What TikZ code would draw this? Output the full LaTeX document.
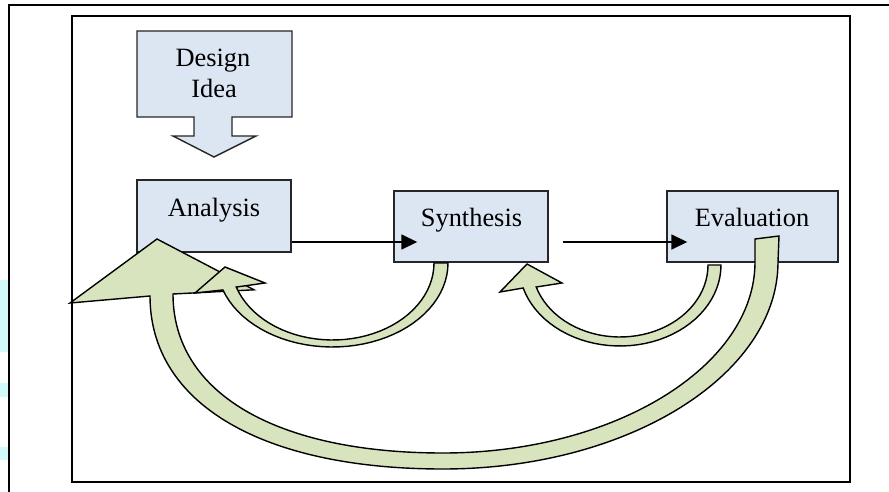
\documentclass[tikz,border=0pt]{standalone}
\usepackage{fontspec}
\setmainfont{Liberation Serif}
\usetikzlibrary{arrows.meta}
\definecolor{boxblue}{HTML}{DCE6F2}
\definecolor{arrowgreen}{HTML}{D7E4BD}
\definecolor{edgecyan}{HTML}{D2FAFA}
\begin{document}
\begin{tikzpicture}[x=0.5pt,y=-0.5pt,
  box/.style={draw=black!85, fill=boxblue, line width=0.7pt, rectangle, inner sep=0pt},
  lbl/.style={font=\fontsize{13.2pt}{15.2pt}\selectfont, inner sep=0pt, anchor=base},
  curved/.style={draw=black, fill=arrowgreen, line width=0.7pt, line join=miter},
  flow/.style={draw=black, line width=0.8pt, -{Triangle[length=8pt,width=7.5pt]}},
  frameline/.style={draw=black, line width=1pt}]
\useasboundingbox (0,0) rectangle (889,492);
% stray cyan marks at left edge
\fill[edgecyan] (0,280) rectangle (9,352);
\fill[edgecyan] (0,383) rectangle (9,397);
\fill[edgecyan] (0,447) rectangle (9,460);
% frames
\draw[frameline] (9,496) -- (9,5.5) -- (893,5.5);
\draw[frameline] (72,16) rectangle (850,482);
% design idea block arrow
\draw[box] (137,31) -- (292,31) -- (292,117) -- (232,117) -- (232,136) -- (256,136)
  -- (214,157) -- (173,136) -- (194,136) -- (194,117) -- (137,117) -- cycle;
\node[lbl] (designA) at (213,66.7) {Design};
\node[lbl] (designB) at (214,97.7) {Idea};
% boxes
\node[box, minimum width=77pt, minimum height=36pt] (analysis) at (214,216) {};
\node[box, minimum width=77pt, minimum height=35.5pt] (synthesis) at (471,226.5) {};
\node[box, minimum width=85.5pt, minimum height=35.5pt] (evaluation) at (752.5,226.5) {};
\node[lbl] (analysisT) at (214,216) {Analysis};
\node[lbl] (synthesisT) at (471.5,227) {Synthesis};
\node[lbl] (evaluationT) at (752,226.5) {Evaluation};
% straight connectors
\coordinate (rowA) at (0,242);
\coordinate (synIn) at ([xshift=12pt]synthesis.west);
\coordinate (synOut) at ([xshift=7pt]synthesis.east);
\coordinate (evalIn) at ([xshift=10.5pt]evaluation.west);
\draw[flow] (analysis.east |- rowA) -- (synIn |- rowA);
\draw[flow] (synOut |- rowA) -- (evalIn |- rowA);
% big curved arrow: evaluation -> analysis
\draw[curved] (779,236) -- (778,262) .. controls (778,375) and (628,469) .. (443,469)
  .. controls (261,469) and (150,403) .. (150,296) -- (70,303) -- (157,239) -- (254,289.8)
  -- (173,294) .. controls (173,393) and (276,453) .. (443,453)
  .. controls (615,453) and (755,366) .. (755,262) -- (755,239) -- cycle;
% small curved arrow: synthesis -> analysis
\draw[curved] plot[domain=0:161.3, samples=40, variable=\t] ({332.4+115.6*cos(\t)},{263+84*sin(\t)})
  -- (195,293) -- (225,267) -- (265,283)
  -- plot[domain=161.8:0, samples=40, variable=\t] ({332.6+101.4*cos(\t)},{263+77*sin(\t)}) -- cycle;
% small curved arrow: evaluation -> synthesis
\draw[curved] plot[domain=0:163.5, samples=40, variable=\t] ({620+101*cos(\t)},{265+81*sin(\t)})
  -- (500,292) -- (527,264) -- (562,283)
  -- plot[domain=162.2:0, samples=40, variable=\t] ({620+88*cos(\t)},{265+72*sin(\t)}) -- cycle;
\end{tikzpicture}
\end{document}
